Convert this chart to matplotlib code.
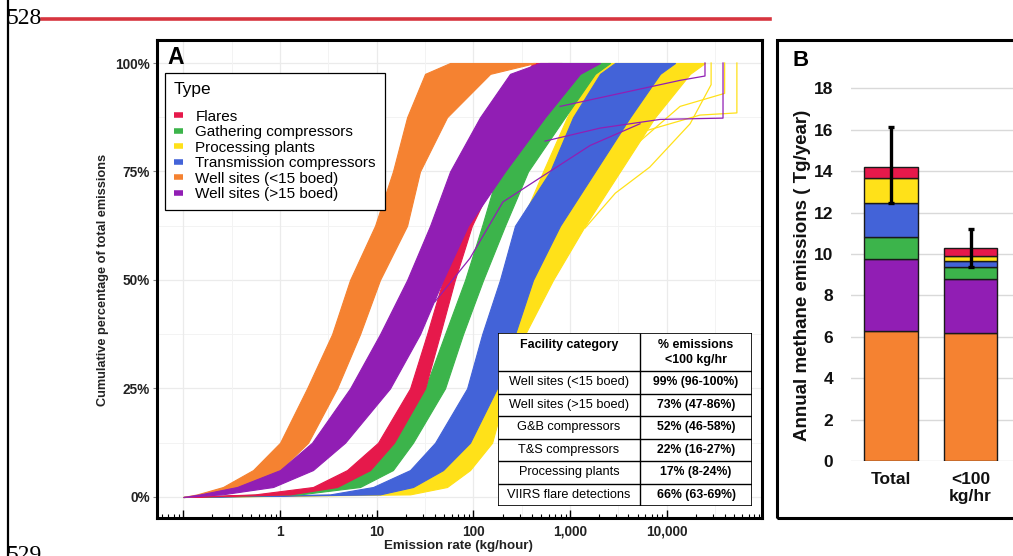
import numpy as np
import matplotlib.pyplot as plt
from matplotlib.lines import Line2D
from matplotlib.patches import Rectangle

plt.rcParams['font.family'] = ['Liberation Sans', 'DejaVu Sans']

# ---- panel A: cumulative share of emissions, band edges ----
pct = [0, 0.6, 2.3, 6.2, 12.5, 25, 37.5, 50, 62.5, 75, 87.5, 97.5, 100]

types = ['Flares', 'Gathering compressors', 'Processing plants',
         'Transmission compressors', 'Well sites (<15 boed)', 'Well sites (>15 boed)']
type_colors = ['#E6194B', '#3CB44B', '#FFE119', '#4363D8', '#F58231', '#911EB4']

# emission rate (kg/hour) of the left / right edge of each band at each pct level
flares_lo = [0.1, 0.55, 2.19, 4.93, 10.3, 22.1, 33.1, 48.5, 76.2, 132, 228, 342, 413]
flares_hi = [0.1, 1.27, 3.88, 8.53, 15.1, 31.6, 45.2, 64.2, 96.4, 179, 367, 650, 820]
gather_lo = [0.1, 0.70, 3.06, 7.94, 14.4, 31.6, 50.8, 81.9, 123, 180, 289, 466, 591]
gather_hi = [0.1, 1.61, 6.72, 14.7, 23.7, 50.8, 78.0, 126, 212, 367, 885, 1809, 2587]
plants_lo = [0.1, 6.72, 15.5, 42.0, 81.9, 117, 149, 212, 303, 525, 929, 1607, 2038]
plants_hi = [0.1, 22.1, 53.3, 92.2, 156, 222, 342, 666, 1426, 3281, 7550, 17380, 24830]
trans_lo = [0.1, 3.29, 9.16, 22.1, 40.1, 85.9, 123, 188, 269, 620, 1071, 2038, 2912]
trans_hi = [0.1, 10.8, 23.7, 48.5, 92.2, 175, 269, 413, 787, 1809, 4160, 8506, 12160]
small_lo = [0.1, 0.139, 0.257, 0.526, 1.0, 1.90, 3.45, 5.29, 9.60, 14.7, 20.6, 31.6, 57.3]
small_hi = [0.1, 0.198, 0.49, 1.0, 1.95, 3.88, 6.72, 10.8, 20.6, 28.0, 53.3, 149, 433]
large_lo = [0.1, 0.149, 0.359, 1.0, 2.14, 5.29, 10.8, 20.6, 35.6, 57.3, 117, 239, 488]
large_hi = [0.1, 0.251, 0.847, 2.19, 4.70, 13.7, 28.0, 48.5, 87.9, 212, 550, 1266, 2038]

# a few sparse curves sticking out of the bands (x kg/hour, y %)
plants_tails = [
    ([5300, 22000, 53000, 53000], [84, 88, 88.5, 100]),
    ([2040, 5280, 13700, 39600, 39600], [75, 82, 90, 93, 100]),
    ([1430, 2930, 6650, 17400, 28700, 28700], [62, 70, 76, 86, 95, 100]),
]
large_tails = [
    ([550, 2040, 8510, 38100, 38100], [82, 85, 87, 87.3, 100]),
    ([787, 3280, 13700, 24800, 24800], [90, 93, 96, 97, 100]),
    ([40, 92, 202, 525, 1610, 5280], [45, 55, 68, 74, 81, 86]),
]

table_cats = ['Well sites (<15 boed)', 'Well sites (>15 boed)', 'G&B compressors',
              'T&S compressors', 'Processing plants', 'VIIRS flare detections']
table_vals = ['99% (96-100%)', '73% (47-86%)', '52% (46-58%)',
              '22% (16-27%)', '17% (8-24%)', '66% (63-69%)']

# ---- panel B: annual methane emissions (Tg/year) ----
bar_cats = ['Total', '<100\nkg/hr']
well_small = [6.26, 6.18]
well_large = [3.52, 2.61]
gathering = [1.06, 0.57]
transmission = [1.63, 0.32]
processing = [1.18, 0.21]
flares = [0.56, 0.38]
err_lo = [12.47, 9.36]
err_hi = [16.13, 11.20]

W, H = 1013, 556
fig = plt.figure(figsize=(W / 100, H / 100), dpi=100)


def box(x0, y0, x1, y1):
    # pixel box, origin top-left -> figure fraction rect
    return [x0 / W, 1 - y1 / H, (x1 - x0) / W, (y1 - y0) / H]


# page furniture
fig.add_artist(Line2D([7.5 / W, 7.5 / W], [0, 1], color='black', lw=1.6))
fig.add_artist(Line2D([42 / W, 770 / W], [1 - 18.5 / H] * 2, color='#D7353F', lw=2.6))
fig.text(42 / W, 1 - 18.5 / H, '528', family='Liberation Serif', fontsize=17,
         ha='right', va='center')
fig.text(42 / W, 1 - 545 / H, '529', family='Liberation Serif', fontsize=17,
         ha='right', va='top')

# ---------------- panel A ----------------
ax = fig.add_axes(box(157, 40, 762, 518))
ax.set_xscale('log')

for v in [0, 25, 50, 75, 100]:
    ax.axhline(v, color='#EBEBEB', lw=0.9, zorder=0)
for v in [12.5, 37.5, 62.5, 87.5]:
    ax.axhline(v, color='#F3F3F3', lw=0.7, zorder=0)
for k in range(-1, 5):
    ax.axvline(10.0 ** k, color='#EBEBEB', lw=0.9, zorder=0)
    ax.axvline(10.0 ** (k + 0.5), color='#F3F3F3', lw=0.7, zorder=0)

bands = [(plants_lo, plants_hi, 2), (trans_lo, trans_hi, 3), (gather_lo, gather_hi, 1),
         (flares_lo, flares_hi, 0), (small_lo, small_hi, 4), (large_lo, large_hi, 5)]
for lo, hi, i in bands:
    ax.fill_betweenx(pct, lo, hi, facecolor=type_colors[i], edgecolor=type_colors[i],
                     lw=0.8, zorder=2)
for xs, ys in plants_tails:
    ax.plot(xs, ys, color=type_colors[2], lw=0.9, zorder=2)
for xs, ys in large_tails:
    ax.plot(xs, ys, color=type_colors[5], lw=0.9, zorder=3)

ax.set_xticks([0.1, 1, 10, 100, 1000, 10000])
ax.set_xticklabels(['', '1', '10', '100', '1,000', '10,000'])
minor = [m * 10.0 ** k for k in range(-2, 5) for m in range(2, 10)]
ax.set_xticks(minor, minor=True)
ax.set_xticklabels([], minor=True)
ax.set_yticks([0, 25, 50, 75, 100])
ax.set_yticklabels(['0%', '25%', '50%', '75%', '100%'])
# limits after the ticks, set_xticks would widen them
ax.set_xlim(0.0534, 96400)
ax.set_ylim(-4.84, 105.3)
ax.tick_params(axis='x', which='major', direction='in', length=6, width=1, pad=5,
               labelsize=9.8, labelcolor='#222222')
ax.tick_params(axis='x', which='minor', direction='in', length=3, width=0.8)
ax.tick_params(axis='y', direction='out', length=3, color='#888888', pad=2,
               labelsize=9.8, labelcolor='#222222')
for lbl in ax.get_xticklabels() + ax.get_yticklabels():
    lbl.set_fontweight('bold')
for s in ax.spines.values():
    s.set_linewidth(2.2)
    s.set_color('black')

handles = [Line2D([], [], color=c, lw=4, solid_capstyle='butt') for c in type_colors]
leg = ax.legend(handles, types, title='Type', loc='upper left',
                bbox_to_anchor=(0.013, 0.931), borderaxespad=0, fancybox=False,
                edgecolor='black', framealpha=1, fontsize=11, title_fontsize=12.5,
                handlelength=0.6, handletextpad=0.8, labelspacing=0.1, borderpad=0.6,
                alignment='left')
leg._legend_box.sep = 9
leg.get_frame().set_linewidth(0.9)
leg.set_zorder(5)

fig.text(167 / W, 1 - 57 / H, 'A', fontsize=16.5, weight='bold', va='center', ha='left')
fig.text(103 / W, 1 - 280 / H, 'Cumulative percentage of total emissions', rotation=90,
         fontsize=9.2, weight='bold', color='#222222', ha='center', va='center')
fig.text(458 / W, 1 - 546 / H, 'Emission rate (kg/hour)', fontsize=9.6, weight='bold',
         color='#222222', ha='center', va='center')

# table inside panel A
tab = fig.add_axes(box(498, 333, 752, 506))
tab.set_xlim(0, 254)
tab.set_ylim(173, 0)
tab.axis('off')
tab.add_patch(Rectangle((0, 0), 254, 173, facecolor='white', edgecolor='black', lw=1.2))
row_lines = [38, 61, 83, 105.5, 128, 150.5]
tab.hlines(row_lines, 0, 254, color='black', lw=1)
tab.vlines(142, 0, 173, color='black', lw=1)
tab.text(71, 12, 'Facility category', ha='center', va='center', fontsize=8.9,
         weight='bold')
tab.text(198, 19.5, '% emissions\n<100 kg/hr', ha='center', va='center', fontsize=8.9,
         weight='bold', linespacing=1.25)
row_edges = row_lines + [173]
for r in range(len(table_cats)):
    yc = (row_edges[r] + row_edges[r + 1]) / 2
    tab.text(71, yc, table_cats[r], ha='center', va='center', fontsize=9.2)
    tab.text(198, yc, table_vals[r], ha='center', va='center', fontsize=8.8,
             weight='bold')

# ---------------- panel B ----------------
bx = fig.add_axes(box(851, 75, 1030, 461))
stacks = [(well_small, 4), (well_large, 5), (gathering, 1), (transmission, 3),
          (processing, 2), (flares, 0)]
xpos = np.arange(len(bar_cats))
bottom = np.zeros(len(bar_cats))
for vals, i in stacks:
    bx.bar(xpos, vals, 0.667, bottom=bottom, color=type_colors[i], edgecolor='#1a1a1a',
           lw=1, zorder=2)
    bottom = bottom + np.array(vals)
bx.errorbar(xpos, bottom, yerr=[bottom - np.array(err_lo), np.array(err_hi) - bottom],
            fmt='none', ecolor='black', elinewidth=2.4, capsize=2, capthick=2.4, zorder=3)
bx.set_yticks(range(0, 20, 2))
bx.set_xticks(xpos)
bx.set_xticklabels(bar_cats, linespacing=1.15)
bx.set_xlim(-0.503, 1.748)
bx.set_ylim(0, 18.65)
bx.yaxis.grid(True, color='#D9D9D9', lw=1)
bx.set_axisbelow(True)
for s in bx.spines.values():
    s.set_visible(False)
bx.tick_params(axis='y', length=0, labelsize=12.5, pad=13)
bx.tick_params(axis='x', length=0, labelsize=12.5, pad=8)
for lbl in bx.get_xticklabels() + bx.get_yticklabels():
    lbl.set_fontweight('bold')
    lbl.set_color('#111111')

fig.add_artist(Rectangle((777 / W, 1 - 518 / H), (1040 - 777) / W, (518 - 40) / H,
                         transform=fig.transFigure, fill=False, lw=2.2, ec='black'))
fig.text(792 / W, 1 - 60 / H, 'B', fontsize=16, weight='bold', va='center', ha='left')
fig.text(802 / W, 1 - 275 / H, 'Annual methane emissions ( Tg/year)', rotation=90,
         fontsize=13.5, weight='bold', color='#111111', ha='center', va='center')

fig.savefig('out.png', dpi=100)
